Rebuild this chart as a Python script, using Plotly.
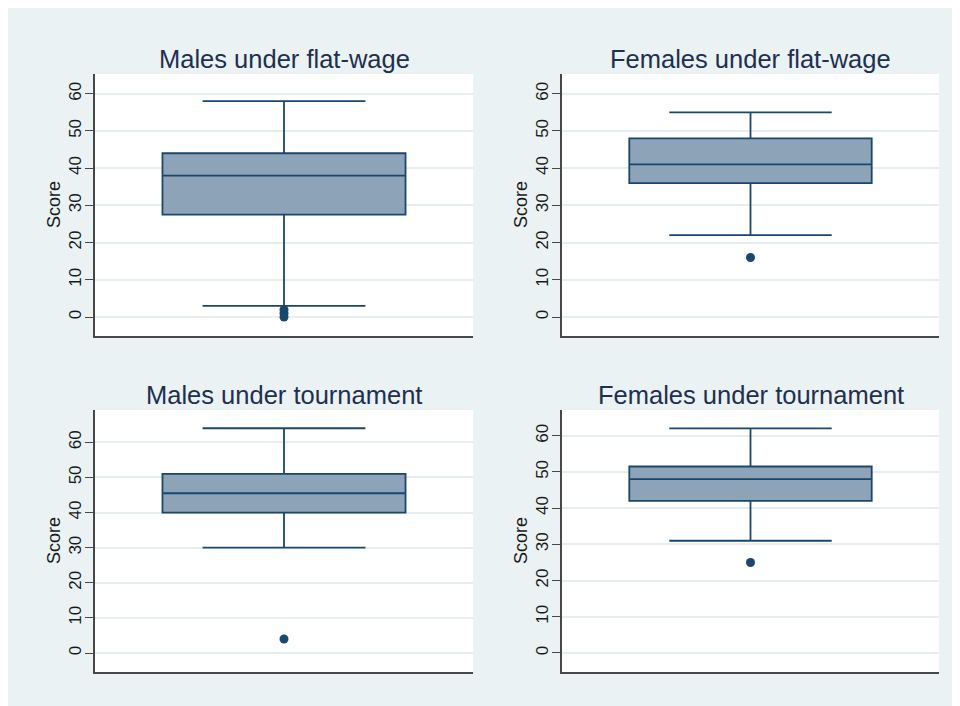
import plotly.graph_objects as go

# ---- data ----
panels = ["Males under flat-wage", "Females under flat-wage",
          "Males under tournament", "Females under tournament"]
q1 = [27.5, 36, 40, 42]
median = [38, 41, 45.5, 48]
q3 = [44, 48, 51, 51.5]
lower_whisker = [3, 22, 30, 31]
upper_whisker = [58, 55, 64, 62]
outliers = [[0, 1, 2], [16], [4], [25]]
y_ticks = [0, 10, 20, 30, 40, 50, 60]
y_title = "Score"

# ---- layout geometry / styles (page body adds an 8px offset) ----
W, H = 960, 706
OFF = 8
y_ranges = [[-5.1, 65.3], [-5.1, 65.3], [-5.4, 69.2], [-5.25, 67.1]]
col_px = [(95 - OFF, 473 - OFF), (562 - OFF, 939 - OFF)]
row_px = [(74 - OFF, 336 - OFF), (410 - OFF, 672 - OFF)]
NAVY = "#1A476F"
FILL = "rgb(141,163,183)"
BG = "#EAF2F3"
GRID = "#E6EEEF"
AXIS = "#474747"
TITLE_C = "#1E2F50"
FONT = "Liberation Sans, Arial, Helvetica, sans-serif"

fig = go.Figure()
layout = dict(
    width=W, height=H,
    margin=dict(l=0, r=0, t=0, b=0),
    paper_bgcolor=BG, plot_bgcolor="white",
    showlegend=False,
    font=dict(family=FONT, color="#1a1a1a"),
    annotations=[],
)

for i in range(4):
    r, c = divmod(i, 2)
    n = "" if i == 0 else str(i + 1)
    xa, ya = "x" + n, "y" + n
    x0, x1 = col_px[c]
    top, bot = row_px[r]
    fig.add_trace(go.Box(
        x=[0], q1=[q1[i]], median=[median[i]], q3=[q3[i]],
        lowerfence=[lower_whisker[i]], upperfence=[upper_whisker[i]],
        boxpoints=False, width=0.643, whiskerwidth=0.67,
        fillcolor=FILL, line=dict(color=NAVY, width=1.8),
        xaxis=xa, yaxis=ya, hoverinfo="skip",
    ))
    fig.add_trace(go.Scatter(
        x=[0] * len(outliers[i]), y=outliers[i], mode="markers",
        marker=dict(color=NAVY, size=9, line=dict(width=0)),
        xaxis=xa, yaxis=ya, hoverinfo="skip",
    ))
    layout["xaxis" + n] = dict(
        domain=[x0 / W, x1 / W], anchor=ya, range=[-0.5, 0.5],
        showticklabels=False, showgrid=False, zeroline=False, ticks="",
        showline=True, linecolor=AXIS, linewidth=1.5, fixedrange=True,
    )
    layout["yaxis" + n] = dict(
        domain=[1 - bot / H, 1 - top / H], anchor=xa, range=y_ranges[i],
        tickvals=y_ticks, ticktext=[str(t) for t in y_ticks],
        tickangle=-90, ticks="outside", ticklen=8, tickwidth=1.3, tickcolor=AXIS,
        ticklabelstandoff=-3,
        tickfont=dict(size=17, color="#1a1a1a"),
        showgrid=True, gridcolor=GRID, gridwidth=1.5, zeroline=False,
        showline=True, linecolor=AXIS, linewidth=1.5, fixedrange=True,
    )
    layout["annotations"].append(dict(
        text=panels[i], xref="paper", yref="paper",
        x=(x0 + x1) / 2 / W, y=1 - (top - 15) / H,
        xanchor="center", yanchor="middle", showarrow=False,
        font=dict(size=25.5, color=TITLE_C, family=FONT),
    ))
    layout["annotations"].append(dict(
        text=y_title, xref="paper", yref="paper",
        x=(x0 - 41) / W, y=1 - (top + bot) / 2 / H,
        xanchor="center", yanchor="middle", showarrow=False, textangle=-90,
        font=dict(size=18, color="#1a1a1a", family=FONT),
    ))

fig.update_layout(**layout)
fig.write_html("out.html")
